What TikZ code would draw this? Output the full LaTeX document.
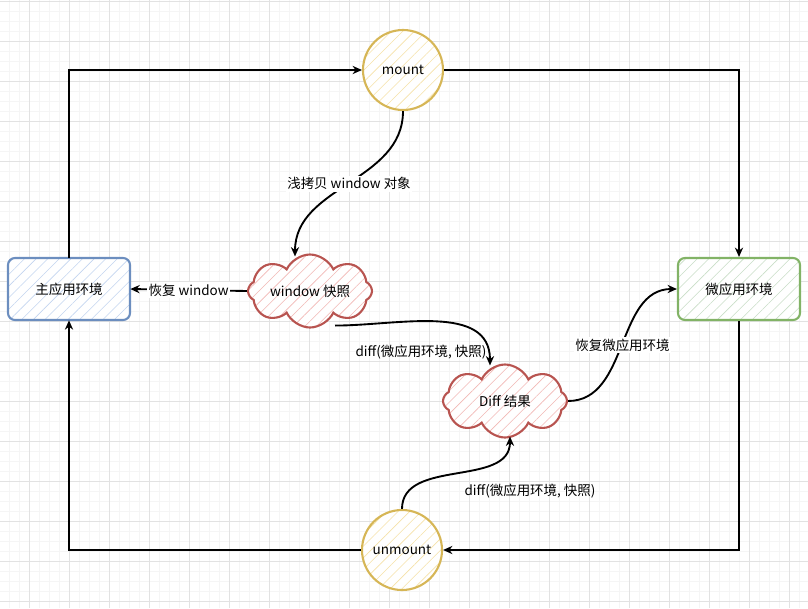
\documentclass[tikz,border=0pt]{standalone}
\usepackage{fontspec}
\setmainfont{Noto Sans CJK SC}
\usetikzlibrary{arrows.meta,calc,positioning,shapes.symbols,patterns.meta}
\definecolor{gridmajor}{HTML}{E2E2E2}
\definecolor{gridminor}{HTML}{F5F5F5}
\definecolor{hostline}{HTML}{6C8EBF}
\definecolor{hosthatch}{HTML}{C3D5F0}
\definecolor{microline}{HTML}{82B366}
\definecolor{microhatch}{HTML}{C9DEC7}
\definecolor{hookline}{HTML}{D6B656}
\definecolor{hookhatch}{HTML}{F6E2A8}
\definecolor{snapline}{HTML}{B85450}
\definecolor{snaphatch}{HTML}{F2B8B5}

\begin{document}
\begin{tikzpicture}[x=0.03cm,y=-0.03cm,>={Stealth[open,length=8pt,width=7pt]},font=\fontsize{11.5}{14}\selectfont,
  envbox/.style={draw=#1line,line width=1.8pt,rounded corners=6pt,minimum width=3.66cm,minimum height=1.86cm,
    preaction={fill=white},pattern={Lines[angle=45,distance=7pt,line width=0.5pt]},pattern color=#1hatch},
  hook/.style={circle,draw=hookline,line width=1.8pt,minimum size=2.4cm,
    preaction={fill=white},pattern={Lines[angle=45,distance=7pt,line width=0.5pt]},pattern color=hookhatch},
  snapcloud/.style={cloud,cloud puffs=8,cloud puff arc=130,cloud ignores aspect,draw=snapline,line width=1.8pt,
    minimum width=3.72cm,minimum height=2.19cm,inner sep=0pt,
    preaction={fill=white},pattern={Lines[angle=45,distance=7pt,line width=0.5pt]},pattern color=snaphatch},
  flow/.style={->,line width=1.6pt},
  edgelabel/.style={fill=white,inner sep=1.5pt}]
\useasboundingbox (0,0) rectangle (808,608);
% grid
\foreach \gx in {9,19,...,799} \draw[gridminor,line width=0.3pt] (\gx,0) -- (\gx,608);
\foreach \gy in {1,11,...,601} \draw[gridminor,line width=0.3pt] (0,\gy) -- (808,\gy);
\foreach \gx in {29,69,...,789} \draw[gridmajor,line width=0.5pt] (\gx,0) -- (\gx,608);
\foreach \gy in {1,41,...,601} \draw[gridmajor,line width=0.5pt] (0,\gy) -- (808,\gy);

\node[envbox=host] (host) at (69,289) {主应用环境};
\node[envbox=micro] (micro) at (739,289) {微应用环境};
\node[hook] (mount) at (403,70) {mount};
\node[hook] (unmount) at (402,550) {unmount};
\node[snapcloud] (snap) at (310,291) {window 快照};
\node[snapcloud] (diffres) at (505,401) {Diff 结果};

% outer loop
\draw[flow] (host.north) |- (mount.west);
\draw[flow] (mount.east) -| (micro.north);
\draw[flow] (micro.south) |- (unmount.east);
\draw[flow] (unmount.west) -| (host.south);

% snapshot and diff
\draw[flow] (mount.south) to[out=-90,in=90] node[edgelabel] (copylabel) {浅拷贝 window 对象} ($(snap.north)+(-15,3)$);
\draw[flow] (snap.west) -- node[edgelabel] (restorelabel) {恢复 window} (host.east);
\draw[flow] ($(snap.south)+(25,-3)$) to[out=0,in=90] ($(diffres.north)+(-15,2)$);
\node (difflabel) at (421,352) {diff(微应用环境, 快照)};
\draw[flow] (diffres.east) to[out=0,in=180] node[edgelabel] (microlabel) {恢复微应用环境} (micro.west);
\draw[flow] (unmount.north) to[out=90,in=-90] ($(diffres.south)+(5,-2)$);
\node (difflabel2) at (530,491) {diff(微应用环境, 快照)};
\end{tikzpicture}
\end{document}
